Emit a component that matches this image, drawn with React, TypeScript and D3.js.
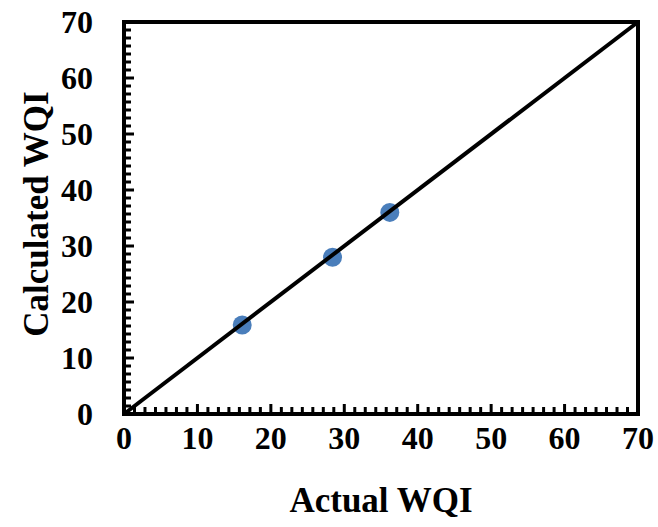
import React, { useRef, useEffect } from 'react';
import * as d3 from 'd3';

// Data
const actualWQI = [16.1, 28.4, 36.2];
const calculatedWQI = [15.9, 28.0, 36.0];
const tickValues = [0, 10, 20, 30, 40, 50, 60, 70];
const axisDomain = [0, 70];
const minorPerMajor = 7;

const App = () => {
  const svgRef = useRef<SVGSVGElement | null>(null);

  useEffect(() => {
    if (!svgRef.current) return;
    const width = 658;
    const height = 527;
    const svg = d3.select(svgRef.current);
    svg.selectAll('*').remove();
    svg.attr('width', width).attr('height', height);

    const left = 124, right = 638, top = 22, bottom = 414;
    const x = d3.scaleLinear().domain(axisDomain).range([left, right]);
    const y = d3.scaleLinear().domain(axisDomain).range([bottom, top]);

    const font = '"Liberation Serif", "Times New Roman", serif';

    // minor ticks, inward
    const minorStep = 10 / minorPerMajor;
    const minor = d3.range(1, Math.round(70 / minorStep)).map(i => i * minorStep)
      .filter(v => Math.abs(v / 10 - Math.round(v / 10)) > 1e-6);

    const g = svg.append('g');

    minor.forEach(v => {
      g.append('line')
        .attr('x1', x(v)).attr('x2', x(v))
        .attr('y1', bottom).attr('y2', bottom - 7)
        .attr('stroke', '#000').attr('stroke-width', 3);
      g.append('line')
        .attr('y1', y(v)).attr('y2', y(v))
        .attr('x1', left).attr('x2', left + 7)
        .attr('stroke', '#000').attr('stroke-width', 3);
    });
    tickValues.slice(1, -1).forEach(v => {
      g.append('line')
        .attr('x1', x(v)).attr('x2', x(v))
        .attr('y1', bottom).attr('y2', bottom - 10)
        .attr('stroke', '#000').attr('stroke-width', 3);
      g.append('line')
        .attr('y1', y(v)).attr('y2', y(v))
        .attr('x1', left).attr('x2', left + 10)
        .attr('stroke', '#000').attr('stroke-width', 3);
    });

    // frame
    g.append('rect')
      .attr('x', left).attr('y', top)
      .attr('width', right - left).attr('height', bottom - top)
      .attr('fill', 'none')
      .attr('stroke', '#000')
      .attr('stroke-width', 4);

    // data points
    g.selectAll('.dot')
      .data(actualWQI.map((a, i) => ({ a, c: calculatedWQI[i] })))
      .enter()
      .append('circle')
      .attr('class', 'dot')
      .attr('cx', d => x(d.a))
      .attr('cy', d => y(d.c))
      .attr('r', 9.5)
      .attr('fill', '#4a7ebb');

    // 1:1 line
    g.append('line')
      .attr('x1', x(0)).attr('y1', y(0))
      .attr('x2', x(70)).attr('y2', y(70))
      .attr('stroke', '#000')
      .attr('stroke-width', 4);

    // tick labels
    tickValues.forEach(v => {
      g.append('text')
        .attr('x', x(v))
        .attr('y', 449)
        .attr('text-anchor', 'middle')
        .attr('font-family', font)
        .attr('font-weight', 'bold')
        .attr('font-size', '32px')
        .text(v);
      g.append('text')
        .attr('x', 93)
        .attr('y', y(v) + 11)
        .attr('text-anchor', 'end')
        .attr('font-family', font)
        .attr('font-weight', 'bold')
        .attr('font-size', '32px')
        .text(v);
    });

    // axis titles
    g.append('text')
      .attr('x', 381)
      .attr('y', 512)
      .attr('text-anchor', 'middle')
      .attr('font-family', font)
      .attr('font-weight', 'bold')
      .attr('font-size', '35px')
      .text('Actual WQI');

    g.append('text')
      .attr('transform', 'translate(48, 214) rotate(-90)')
      .attr('text-anchor', 'middle')
      .attr('font-family', font)
      .attr('font-weight', 'bold')
      .attr('font-size', '35px')
      .text('Calculated WQI');
  }, []);

  return (
    <svg
      ref={svgRef}
      style={{ position: 'absolute', left: 0, top: 0, background: '#fff' }}
    />
  );
};

export default App;
